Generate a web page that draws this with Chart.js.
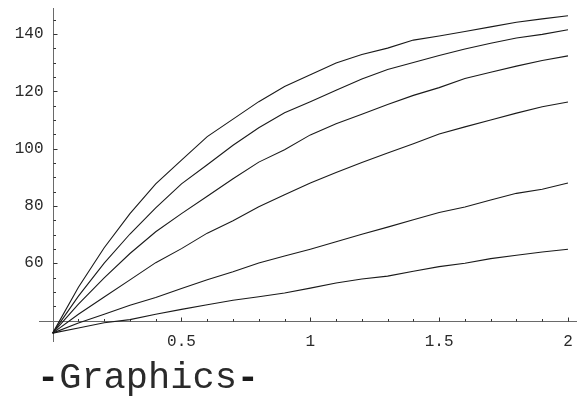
<!DOCTYPE html>
<html>
<head>
<meta charset="utf-8">
<script src="https://cdn.jsdelivr.net/npm/chart.js@4.4.1/dist/chart.umd.min.js"></script>
<style>
  html, body { margin: 0; padding: 0; background: #fff; }
  #wrap { width: 577px; height: 398px; }
</style>
</head>
<body>
<div id="wrap"><canvas id="plot" width="577" height="398"></canvas></div>
<script>
// x samples (0 .. 2 step 0.1)
const xValues = [0, 0.1, 0.2, 0.3, 0.4, 0.5, 0.6, 0.7, 0.8, 0.9, 1.0,
                 1.1, 1.2, 1.3, 1.4, 1.5, 1.6, 1.7, 1.8, 1.9, 2.0];

// curves, top to bottom
const curve1 = [35.6, 51.6, 65.4, 77.3, 87.7, 96.0, 104.2, 110.3, 116.4, 121.7, 125.8,
                129.9, 132.9, 135.1, 137.9, 139.3, 140.9, 142.5, 144.1, 145.3, 146.4];
const curve2 = [35.6, 48.5, 60.0, 70.2, 79.3, 87.7, 94.4, 101.2, 107.3, 112.5, 116.4,
                120.4, 124.3, 127.6, 130.1, 132.5, 134.8, 136.8, 138.6, 139.9, 141.5];
const curve3 = [35.6, 45.7, 54.9, 63.4, 71.0, 77.3, 83.4, 89.5, 95.3, 99.6, 104.8,
                108.7, 112.0, 115.4, 118.6, 121.3, 124.5, 126.7, 128.8, 130.8, 132.4];
const curve4 = [35.6, 42.2, 48.2, 54.2, 60.2, 65.1, 70.5, 74.8, 79.7, 83.9, 88.0,
                91.7, 95.2, 98.5, 101.7, 105.1, 107.6, 110.0, 112.4, 114.6, 116.3];
const curve5 = [35.6, 39.1, 42.2, 45.3, 48.0, 51.2, 54.2, 57.0, 60.1, 62.5, 64.9,
                67.5, 70.1, 72.6, 75.2, 77.7, 79.6, 82.1, 84.4, 85.8, 88.0];
const curve6 = [35.6, 37.4, 39.2, 40.3, 42.2, 43.9, 45.5, 47.1, 48.3, 49.6, 51.3,
                53.1, 54.5, 55.5, 57.2, 58.8, 60.0, 61.6, 62.8, 63.9, 64.9];

// tick labels
const xTicks = [0.5, 1, 1.5, 2];
const yTicks = [60, 80, 100, 120, 140];
const xMinorStep = 0.1;
const yMinorStep = 5;

const curves = [curve1, curve2, curve3, curve4, curve5, curve6];

// axes crossing point, Mathematica style
const axisOrigin = { x: 0, y: 40 };

const axesPlugin = {
  id: 'mmaAxes',
  beforeDatasetsDraw(chart) {
    const ctx = chart.ctx;
    const area = chart.chartArea;
    const xs = chart.scales.x;
    const ys = chart.scales.y;
    const ax = Math.round(xs.getPixelForValue(axisOrigin.x)) + 0.5;
    const ay = Math.round(ys.getPixelForValue(axisOrigin.y)) + 0.5;

    ctx.save();
    ctx.strokeStyle = '#6a6a6a';
    ctx.lineWidth = 1;
    ctx.beginPath();
    ctx.moveTo(area.left, ay);
    ctx.lineTo(area.right, ay);
    ctx.moveTo(ax, area.top);
    ctx.lineTo(ax, area.bottom);
    ctx.stroke();

    // tick marks
    ctx.strokeStyle = '#333';
    ctx.beginPath();
    for (let i = 1; i * xMinorStep <= xs.max + 1e-9; i++) {
      const v = +(i * xMinorStep).toFixed(2);
      const px = Math.round(xs.getPixelForValue(v)) + 0.5;
      const len = xTicks.includes(v) ? 4 : 2.5;
      ctx.moveTo(px, ay);
      ctx.lineTo(px, ay - len);
    }
    for (let v = axisOrigin.y + yMinorStep; v <= ys.max; v += yMinorStep) {
      const py = Math.round(ys.getPixelForValue(v)) + 0.5;
      const len = yTicks.includes(v) ? 4 : 2.5;
      ctx.moveTo(ax, py);
      ctx.lineTo(ax + len, py);
    }
    ctx.stroke();

    // tick labels
    ctx.fillStyle = '#2a2a2a';
    ctx.font = '16px "Liberation Mono", "Courier New", monospace';
    ctx.textBaseline = 'middle';
    ctx.textAlign = 'center';
    xTicks.forEach(v => {
      ctx.fillText(String(v), xs.getPixelForValue(v), ay + 20.5);
    });
    ctx.textAlign = 'right';
    yTicks.forEach(v => {
      ctx.fillText(String(v), ax - 10, ys.getPixelForValue(v));
    });

    // the output cell label under the plot: heavy dashes, plain word
    const cell = 22.2;
    ctx.fillStyle = '#1a1a1a';
    ctx.textAlign = 'left';
    ctx.textBaseline = 'alphabetic';
    ctx.font = 'bold 37px "Liberation Mono", "Courier New", monospace';
    ctx.fillText('-', 37, 388);
    ctx.fillText('-', 37 + 9 * cell, 388);
    ctx.fillStyle = '#2a2a2a';
    ctx.font = '37px "Liberation Mono", "Courier New", monospace';
    ctx.fillText('Graphics', 37 + cell, 388);
    ctx.restore();
  }
};

new Chart(document.getElementById('plot'), {
  type: 'line',
  data: {
    datasets: curves.map(c => ({
      data: xValues.map((x, i) => ({ x: x, y: c[i] })),
      borderColor: '#1a1a1a',
      borderWidth: 1.1,
      pointRadius: 0,
      tension: 0,
      fill: false
    }))
  },
  options: {
    responsive: false,
    animation: false,
    layout: { padding: { left: 39, right: 0, top: 8, bottom: 56 } },
    plugins: {
      legend: { display: false },
      tooltip: { enabled: false }
    },
    scales: {
      x: { type: 'linear', min: -0.053, max: 2.035, display: false },
      y: { type: 'linear', min: 32.5, max: 149.1, display: false }
    }
  },
  plugins: [axesPlugin]
});
</script>
</body>
</html>
